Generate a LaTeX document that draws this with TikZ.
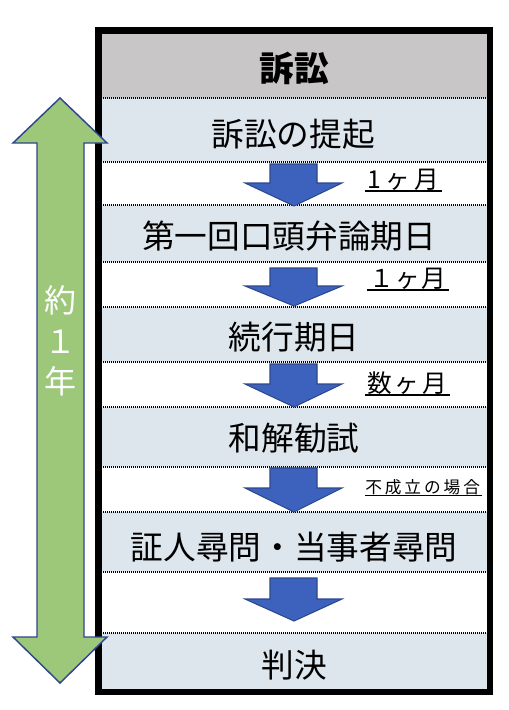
\documentclass[tikz,border=0pt]{standalone}
\usepackage{fontspec}
\newfontfamily\jp{Noto Sans CJK JP}
\definecolor{hdr}{RGB}{200,198,199}
\definecolor{rowblue}{RGB}{222,230,237}
\definecolor{arrfill}{RGB}{61,98,190}
\definecolor{arrdraw}{RGB}{44,72,140}
\definecolor{grn}{RGB}{157,200,122}
\definecolor{grndraw}{RGB}{47,70,143}
\begin{document}
\begin{tikzpicture}[x=0.75pt,y=-0.75pt,
  sepline/.style={line width=0.9pt, dash pattern=on 0.75pt off 0.75pt},
  maintext/.style={font=\jp\fontsize{24.5}{28}\selectfont, inner sep=0pt},
  hdrtext/.style={font=\jp\bfseries\fontsize{26}{30}\selectfont, inner sep=0pt},
  timetext/.style={font=\jp\fontsize{18.5}{22}\selectfont, inner sep=0pt, anchor=base west},
  smalltext/.style={font=\jp\fontsize{12.5}{15}\selectfont, inner sep=0pt, anchor=base west},
  yeartext/.style={font=\jp\fontsize{24}{28}\selectfont, text=white, inner sep=0pt},
  uline/.style={line width=1.1pt},
  blockarrow/.style={fill=arrfill, draw=arrdraw, line width=0.8pt, line join=miter},
  greenarrow/.style={fill=grn, draw=grndraw, line width=1.1pt, line join=miter}]
\useasboundingbox (0,0) rectangle (508,710);
\fill[white] (0,0) rectangle (508,710);
% rows
\fill[hdr] (98,30) rectangle (490,98);
\foreach \a/\b in {98/162,205/262,307/362,407/467,512/572,633/692}
  \fill[rowblue] (98,\a) rectangle (490,\b);
\foreach \y in {98,162,205,262,307,362,407,467,512,572,633}
  \draw[sepline] (101,\y) -- (487,\y);
% frame
\draw[line width=4.9pt] (98.5,30.5) rectangle (490,692);
% blue arrows
\foreach \t/\b/\p in {164/183/206, 268/286/306, 364/384/407, 468/488/512, 578/599/621}
  \filldraw[blockarrow] (270,\t) -- (317,\t) -- (317,\b) -- (342,\b) -- (294,\p) -- (245,\b) -- (270,\b) -- cycle;
% texts
\node[hdrtext] (title) at (294,68) {訴訟};
\node[maintext] (s1) at (293,134) {訴訟の提起};
\node[maintext] (s2) at (289,236) {第一回口頭弁論期日};
\node[maintext] (s3) at (294,337) {続行期日};
\node[maintext] (s4) at (294,438) {和解勧試};
\node[maintext] (s5) at (294,547) {証人尋問・当事者尋問};
\node[maintext] (s6) at (294,665) {判決};
% time labels
\node[timetext] (t1) at (367,188) {\makebox[54pt][l]{1\hfill ヶ\hfill 月}};
\node[timetext] (t2) at (369,287) {\makebox[57.75pt][l]{１\hfill ヶ\hfill 月}};
\node[timetext] (t3) at (367,392) {\makebox[60pt][l]{数\hfill ヶ\hfill 月}};
\node[smalltext] (t4) at (365,493) {\makebox[86pt][l]{不\hfill 成\hfill 立\hfill の\hfill 場\hfill 合}};
\foreach \n in {t1,t2,t3}
  \draw[uline] ([xshift=-1.8pt,yshift=-2.3pt]\n.base west) -- ([xshift=1.5pt,yshift=-2.3pt]\n.base east);
\draw[uline] ([yshift=-1.8pt]t4.base west) -- ([xshift=1.5pt,yshift=-1.8pt]t4.base east);
% green double arrow
\filldraw[greenarrow] (60,98) -- (107,143) -- (84,143) -- (84,637) -- (107,637) -- (60,683)
  -- (13,637) -- (37,637) -- (37,143) -- (13,143) -- cycle;
\node[yeartext] (y1) at (60,300) {約};
\node[yeartext] (y2) at (60,342) {１};
\node[yeartext] (y3) at (60,381) {年};
\end{tikzpicture}
\end{document}
